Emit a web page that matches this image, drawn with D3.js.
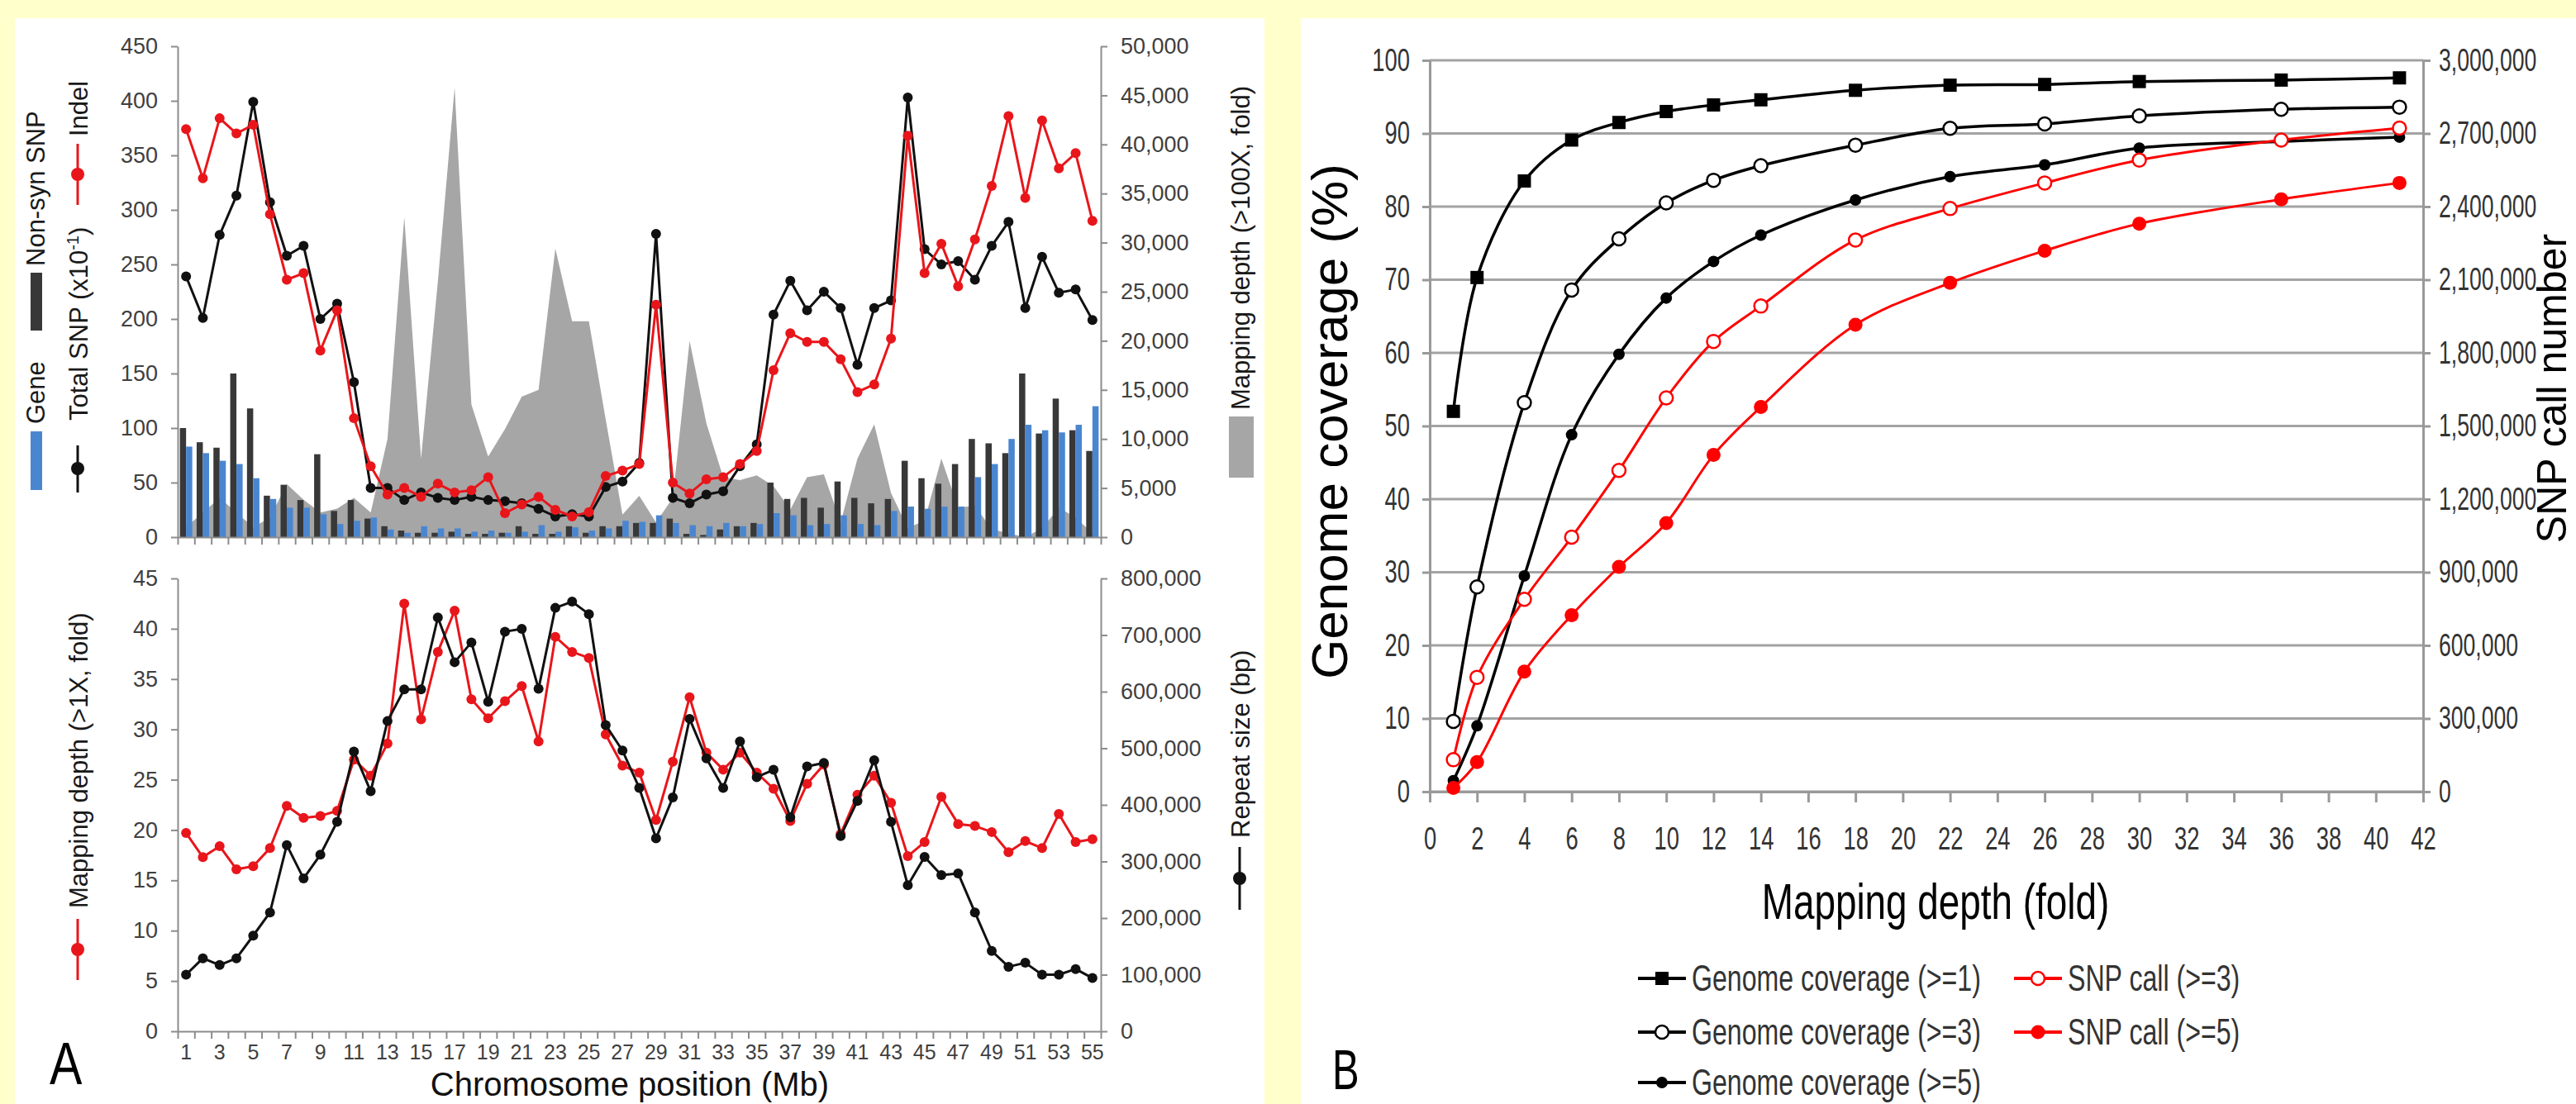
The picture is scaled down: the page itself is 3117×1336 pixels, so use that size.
<!DOCTYPE html>
<html>
<head>
<meta charset="utf-8">
<script src="https://cdn.jsdelivr.net/npm/d3@7"></script>
<style>
  body { margin: 0; background: #ffffcc; }
</style>
</head>
<body>
<div class="canvas"></div>
<script>
// ---------- panel A data (chromosome bins, 1 Mb each) ----------
const chrom = d3.range(1, 56);
const xLabels = [1,3,5,7,9,11,13,15,17,19,21,23,25,27,29,31,33,35,37,39,41,43,45,47,49,51,53,55];

const totalSnp = [239,201,277,313,399,307,258,267,200,214,142,45,45,34,41,36,34,37,34,33,31,26,19,21,19,46,51,68,278,36,31,39,42,65,85,204,235,208,225,210,158,210,217,403,264,250,253,236,267,289,210,257,224,227,199];
const indel = [374,329,384,370,378,296,236,242,171,208,109,65,39,45,37,49,41,43,55,22,30,37,25,19,23,56,61,67,213,50,40,53,55,67,79,153,187,179,179,163,133,140,182,368,242,269,230,273,322,386,311,382,338,352,290];
const nonSyn = [100,87,82,150,118,38,48,34,76,24,34,17,10,6,4,4,5,3,3,4,10,3,3,10,4,10,10,13,13,17,3,2,7,10,13,50,35,36,27,51,36,31,35,70,54,49,67,90,86,77,150,95,127,98,79];
const gene = [83,77,70,67,54,35,27,27,21,12,15,18,7,4,10,8,8,5,6,4,5,11,5,9,6,8,15,14,20,13,11,10,13,10,12,22,20,11,12,20,12,11,24,28,26,28,28,55,67,90,103,98,96,103,120];
const depth100 = [1000,2500,4000,2500,1000,2000,5400,3800,2500,2900,4000,2500,10000,32600,8000,26000,45800,13500,8200,11000,14300,15000,29400,22000,22000,12000,2300,4200,1500,4000,20000,11600,6100,5800,6300,5200,2800,6100,6400,1500,8000,11500,4500,900,1700,8000,3000,3200,800,400,0,900,3000,2000,400];

const depth1 = [19.7,17.3,18.4,16.1,16.4,18.2,22.4,21.2,21.4,21.9,27.0,25.4,28.6,42.5,31.0,37.7,41.8,33.0,31.1,32.8,34.3,28.8,39.2,37.7,37.1,29.5,26.4,25.7,21.0,26.8,33.2,27.7,26.0,27.7,25.7,24.1,20.9,24.6,26.5,19.6,23.5,25.4,22.7,17.4,18.8,23.3,20.6,20.4,19.8,17.8,18.9,18.2,21.6,18.8,19.1];
const repeatSize = [100000,129000,117000,129000,169000,210000,329000,270000,312000,370000,494000,424000,548000,604000,604000,731000,652000,687000,582000,706000,711000,605000,748000,759000,737000,541000,496000,430000,341000,413000,552000,482000,430000,512000,449000,462000,378000,468000,474000,345000,407000,479000,370000,258000,308000,276000,279000,210000,142000,114000,121000,100000,100000,110000,94000];

const topTicksL = [0,50,100,150,200,250,300,350,400,450];
const topTicksR = [0,5000,10000,15000,20000,25000,30000,35000,40000,45000,50000];
const botTicksL = [0,5,10,15,20,25,30,35,40,45];
const botTicksR = [0,100000,200000,300000,400000,500000,600000,700000,800000];

// ---------- panel B data ----------
const depthB = [1,2,4,6,8,10,12,14,18,22,26,30,36,41];
const cov1 = [52,70.3,83.5,89.1,91.5,93.0,93.9,94.6,95.9,96.6,96.7,97.1,97.3,97.6];
const cov3 = [9.6,28.0,53.2,68.6,75.6,80.5,83.6,85.6,88.4,90.7,91.3,92.4,93.3,93.6];
const cov5 = [1.5,9.0,29.5,48.8,59.8,67.5,72.5,76.1,80.9,84.1,85.7,88.0,88.9,89.5];
const snp3 = [131000,469000,789000,1044000,1318000,1615000,1847000,1992000,2263000,2392000,2497000,2591000,2673000,2722000];
const snp5 = [15000,121000,492000,724000,922000,1102000,1381000,1578000,1915000,2087000,2219000,2330000,2430000,2497000];

const bTicksX = [0,2,4,6,8,10,12,14,16,18,20,22,24,26,28,30,32,34,36,38,40,42];
const bTicksL = [0,10,20,30,40,50,60,70,80,90,100];
const bTicksR = [0,300000,600000,900000,1200000,1500000,1800000,2100000,2400000,2700000,3000000];

const RED = '#e8161b';
const W = 3117, H = 1336;

const svg = d3.select('.canvas')
  .append('svg')
    .attr('width', W)
    .attr('height', H)
    .style('font-family', '"Liberation Sans", Arial, sans-serif')
    .style('display', 'block');

// backgrounds
svg.append('rect').attr('width', W).attr('height', H).attr('fill', '#ffffcc');
svg.append('rect').attr('x', 18).attr('y', 22).attr('width', 1512).attr('height', H - 22).attr('fill', '#fff');
svg.append('rect').attr('x', 1574).attr('y', 22).attr('width', W - 1574).attr('height', H - 22).attr('fill', '#fff');

// axis styling helper
const styleAxis = (g, size, col = '#8c8c8c', w = 2) => {
  g.attr('font-family', null).attr('font-size', size);
  g.select('.domain').attr('stroke', col).attr('stroke-width', w);
  g.selectAll('.tick line').attr('stroke', col).attr('stroke-width', w);
  g.selectAll('.tick text').attr('fill', '#404040');
};

// horizontally squeezed text (panel B uses a narrow face)
const squeeze = (g, s) => {
  g.selectAll('text').each(function () {
    const t = d3.select(this);
    const tx = +t.attr('x') || 0;
    t.attr('x', 0).attr('transform', `translate(${tx},0) scale(${s},1)`);
  });
};

// rotated (bottom-to-top) text
const vtext = (g, x, y, txt, size, anchor = 'start') =>
  g.append('text')
    .attr('transform', `translate(${x},${y}) rotate(-90)`)
    .attr('font-size', size)
    .attr('text-anchor', anchor)
    .attr('fill', '#1a1a1a')
    .text(txt);

// =========================== PANEL A ===========================
const x = d3.scaleBand().domain(chrom).range([215, 1332]);
const xEdge = d3.scaleLinear().domain([0, 55]).range([215, 1332]);
const cx = d => x(d) + x.bandwidth() / 2;

// ---- top graph ----
const yTop = d3.scaleLinear().domain([0, 450]).range([650, 56]);
const yTopR = d3.scaleLinear().domain([0, 50000]).range([650, 56]);
const topG = svg.append('g');

// mapping depth >100X area
topG.append('path')
  .datum(chrom)
  .attr('fill', '#a6a6a6')
  .attr('d', d3.area()
    .x(cx)
    .y0(yTopR(0))
    .y1((d, i) => yTopR(depth100[i])));

// bars: non-syn SNP + gene
const xIn = d3.scaleBand().domain(['nonSyn', 'gene']).range([0, x.bandwidth()]).paddingOuter(0.35);
topG.selectAll('rect.ns')
  .data(chrom)
  .enter().append('rect')
    .attr('x', d => x(d) + xIn('nonSyn'))
    .attr('width', xIn.bandwidth())
    .attr('y', (d, i) => yTop(nonSyn[i]))
    .attr('height', (d, i) => yTop(0) - yTop(nonSyn[i]))
    .attr('fill', '#383838');
topG.selectAll('rect.gn')
  .data(chrom)
  .enter().append('rect')
    .attr('x', d => x(d) + xIn('gene'))
    .attr('width', xIn.bandwidth())
    .attr('y', (d, i) => yTop(gene[i]))
    .attr('height', (d, i) => yTop(0) - yTop(gene[i]))
    .attr('fill', '#4a86d0');

// lines with markers
const drawSeries = (g, vals, yScale, color, r, sw, curve = d3.curveLinear) => {
  g.append('path')
    .datum(vals)
    .attr('fill', 'none')
    .attr('stroke', color)
    .attr('stroke-width', sw)
    .attr('stroke-linejoin', 'round')
    .attr('d', d3.line().x((d, i) => cx(chrom[i])).y(d => yScale(d)).curve(curve));
  g.selectAll(null)
    .data(vals)
    .enter().append('circle')
      .attr('cx', (d, i) => cx(chrom[i]))
      .attr('cy', d => yScale(d))
      .attr('r', r)
      .attr('fill', color);
};
drawSeries(topG, totalSnp, yTop, '#111', 6, 3);
drawSeries(topG, indel, yTop, RED, 6, 3);

// axes
topG.append('g')
  .attr('transform', `translate(0,${yTop(0)})`)
  .call(d3.axisBottom(xEdge).tickValues(d3.range(0, 56)).tickFormat('').tickSize(9).tickSizeOuter(0))
  .call(g => styleAxis(g, 26));
topG.append('g')
  .attr('transform', 'translate(215,0)')
  .call(d3.axisLeft(yTop).tickValues(topTicksL).tickSize(8).tickSizeOuter(0).tickPadding(16))
  .call(g => styleAxis(g, 27));
topG.append('g')
  .attr('transform', 'translate(1332,0)')
  .call(d3.axisRight(yTopR).tickValues(topTicksR).tickFormat(d3.format(',')).tickSize(8).tickSizeOuter(0).tickPadding(16))
  .call(g => styleAxis(g, 27));

// left legends (rotated)
topG.append('rect').attr('x', 37).attr('y', 522).attr('width', 14).attr('height', 71).attr('fill', '#4a86d0');
vtext(topG, 54, 513, 'Gene', 31);
topG.append('rect').attr('x', 37).attr('y', 330).attr('width', 14).attr('height', 70).attr('fill', '#383838');
vtext(topG, 54, 322, 'Non-syn SNP', 31);

topG.append('line').attr('x1', 94).attr('x2', 94).attr('y1', 539).attr('y2', 596).attr('stroke', '#111').attr('stroke-width', 3);
topG.append('circle').attr('cx', 94).attr('cy', 567).attr('r', 8).attr('fill', '#111');
const tsnp = vtext(topG, 106, 509, '', 31);
tsnp.append('tspan').text('Total SNP (x10');
tsnp.append('tspan').attr('baseline-shift', 'super').attr('font-size', 20).text('-1');
tsnp.append('tspan').text(')');

topG.append('line').attr('x1', 94).attr('x2', 94).attr('y1', 174).attr('y2', 248).attr('stroke', RED).attr('stroke-width', 3);
topG.append('circle').attr('cx', 94).attr('cy', 211).attr('r', 8).attr('fill', RED);
vtext(topG, 106, 165, 'Indel', 31);

// right legend
topG.append('rect').attr('x', 1487).attr('y', 504).attr('width', 30).attr('height', 74).attr('fill', '#a6a6a6');
vtext(topG, 1512, 496, 'Mapping depth (>100X, fold)', 31);

// ---- bottom graph ----
const yBot = d3.scaleLinear().domain([0, 45]).range([1248, 700]);
const yBotR = d3.scaleLinear().domain([0, 800000]).range([1248, 700]);
const botG = svg.append('g');

drawSeries(botG, depth1, yBot, RED, 6, 3);
drawSeries(botG, repeatSize, yBotR, '#111', 6, 3);

botG.append('g')
  .attr('transform', `translate(0,${yBot(0)})`)
  .call(d3.axisBottom(xEdge).tickValues(d3.range(0, 56)).tickFormat('').tickSize(9).tickSizeOuter(0))
  .call(g => styleAxis(g, 26));
botG.append('g')
  .attr('transform', `translate(0,${yBot(0)})`)
  .call(d3.axisBottom(x).tickValues(xLabels).tickSize(0).tickPadding(16))
  .call(g => styleAxis(g, 25))
  .call(g => g.select('.domain').remove());
botG.append('g')
  .attr('transform', 'translate(215,0)')
  .call(d3.axisLeft(yBot).tickValues(botTicksL).tickSize(8).tickSizeOuter(0).tickPadding(16))
  .call(g => styleAxis(g, 27));
botG.append('g')
  .attr('transform', 'translate(1332,0)')
  .call(d3.axisRight(yBotR).tickValues(botTicksR).tickFormat(d3.format(',')).tickSize(8).tickSizeOuter(0).tickPadding(16))
  .call(g => styleAxis(g, 27));

botG.append('line').attr('x1', 94).attr('x2', 94).attr('y1', 1112).attr('y2', 1186).attr('stroke', RED).attr('stroke-width', 3);
botG.append('circle').attr('cx', 94).attr('cy', 1149).attr('r', 8).attr('fill', RED);
vtext(botG, 106, 1099, 'Mapping depth (>1X, fold)', 31);

botG.append('line').attr('x1', 1500).attr('x2', 1500).attr('y1', 1025).attr('y2', 1101).attr('stroke', '#111').attr('stroke-width', 3);
botG.append('circle').attr('cx', 1500).attr('cy', 1063).attr('r', 8).attr('fill', '#111');
vtext(botG, 1512, 1014, 'Repeat size (bp)', 31);

svg.append('text')
  .attr('x', 762).attr('y', 1326)
  .attr('text-anchor', 'middle')
  .attr('font-size', 40)
  .attr('fill', '#111')
  .text('Chromosome position (Mb)');
svg.append('text')
  .attr('transform', 'translate(60,1312) scale(0.82,1)')
  .attr('font-size', 72)
  .attr('fill', '#000')
  .text('A');

// =========================== PANEL B ===========================
const xB = d3.scaleLinear().domain([0, 42]).range([1730, 2932]);
const yB = d3.scaleLinear().domain([0, 100]).range([958, 73]);
const yBR = d3.scaleLinear().domain([0, 3000000]).range([958, 73]);
const bG = svg.append('g');

// gridlines
bG.selectAll('line.grid')
  .data(bTicksL)
  .enter().append('line')
    .attr('x1', xB(0)).attr('x2', xB(42))
    .attr('y1', d => yB(d)).attr('y2', d => yB(d))
    .attr('stroke', '#a3a3a3')
    .attr('stroke-width', 3);

bG.append('g')
  .attr('transform', `translate(0,${yB(0)})`)
  .call(d3.axisBottom(xB).tickValues(bTicksX).tickSize(13).tickSizeOuter(0).tickPadding(30))
  .call(g => styleAxis(g, 38, '#999', 3))
  .call(g => g.selectAll('.tick text').attr('fill', '#333'))
  .call(g => squeeze(g, 0.72));
bG.append('g')
  .attr('transform', `translate(${xB(0)},0)`)
  .call(d3.axisLeft(yB).tickValues(bTicksL).tickSize(9).tickSizeOuter(0).tickPadding(15))
  .call(g => styleAxis(g, 38, '#999', 3))
  .call(g => g.selectAll('.tick text').attr('fill', '#333'))
  .call(g => squeeze(g, 0.72));
bG.append('g')
  .attr('transform', `translate(${xB(42)},0)`)
  .call(d3.axisRight(yBR).tickValues(bTicksR).tickFormat(d3.format(',')).tickSize(9).tickSizeOuter(0).tickPadding(10))
  .call(g => styleAxis(g, 38, '#999', 3))
  .call(g => g.selectAll('.tick text').attr('fill', '#333'))
  .call(g => squeeze(g, 0.7));

// series
const smooth = d3.curveCatmullRom.alpha(0.5);
const seriesB = [
  { vals: cov1, y: yB, color: '#000', marker: 'square' },
  { vals: cov3, y: yB, color: '#000', marker: 'open' },
  { vals: cov5, y: yB, color: '#000', marker: 'dot' },
  { vals: snp3, y: yBR, color: '#ff0000', marker: 'open' },
  { vals: snp5, y: yBR, color: '#ff0000', marker: 'dot' }
];

const drawMarker = (g, type, color, px, py) => {
  if (type === 'square') {
    g.append('rect').attr('x', px - 8).attr('y', py - 8).attr('width', 16).attr('height', 16).attr('fill', color);
  } else if (type === 'open') {
    g.append('circle').attr('cx', px).attr('cy', py).attr('r', 8).attr('fill', '#fff').attr('stroke', color).attr('stroke-width', 2.5);
  } else {
    g.append('circle').attr('cx', px).attr('cy', py).attr('r', color === '#000' ? 7 : 8.5).attr('fill', color);
  }
};

seriesB.forEach(s => {
  bG.append('path')
    .datum(s.vals)
    .attr('fill', 'none')
    .attr('stroke', s.color)
    .attr('stroke-width', s.color === '#000' ? 3.5 : 3)
    .attr('d', d3.line().x((d, i) => xB(depthB[i])).y(d => s.y(d)).curve(smooth));
  s.vals.forEach((v, i) => drawMarker(bG, s.marker, s.color, xB(depthB[i]), s.y(v)));
});

// axis titles
bG.append('text')
  .attr('transform', 'translate(1630,510) rotate(-90)')
  .attr('text-anchor', 'middle')
  .attr('font-size', 62)
  .attr('fill', '#000')
  .text('Genome coverage (%)');
bG.append('text')
  .attr('transform', 'translate(3105,470) rotate(-90)')
  .attr('text-anchor', 'middle')
  .attr('font-size', 50)
  .attr('fill', '#000')
  .text('SNP call number');
bG.append('text')
  .attr('transform', 'translate(2342,1112) scale(0.74,1)')
  .attr('text-anchor', 'middle')
  .attr('font-size', 62)
  .attr('fill', '#000')
  .text('Mapping depth (fold)');

// legend
const legendB = [
  { label: 'Genome coverage (>=1)', color: '#000', marker: 'square', lx: 1982, ly: 1184 },
  { label: 'Genome coverage (>=3)', color: '#000', marker: 'open', lx: 1982, ly: 1249 },
  { label: 'Genome coverage (>=5)', color: '#000', marker: 'dot', lx: 1982, ly: 1310 },
  { label: 'SNP call (>=3)', color: '#ff0000', marker: 'open', lx: 2437, ly: 1184 },
  { label: 'SNP call (>=5)', color: '#ff0000', marker: 'dot', lx: 2437, ly: 1249 }
];
legendB.forEach(l => {
  bG.append('line')
    .attr('x1', l.lx).attr('x2', l.lx + 58)
    .attr('y1', l.ly).attr('y2', l.ly)
    .attr('stroke', l.color).attr('stroke-width', 4);
  drawMarker(bG, l.marker, l.color, l.lx + 29, l.ly);
  bG.append('text')
    .attr('transform', `translate(${l.lx + 65},${l.ly + 15}) scale(0.73,1)`)
    .attr('font-size', 44)
    .attr('fill', '#333')
    .text(l.label);
});

svg.append('text')
  .attr('transform', 'translate(1612,1318) scale(0.72,1)')
  .attr('font-size', 68)
  .attr('fill', '#000')
  .text('B');
</script>
</body>
</html>
